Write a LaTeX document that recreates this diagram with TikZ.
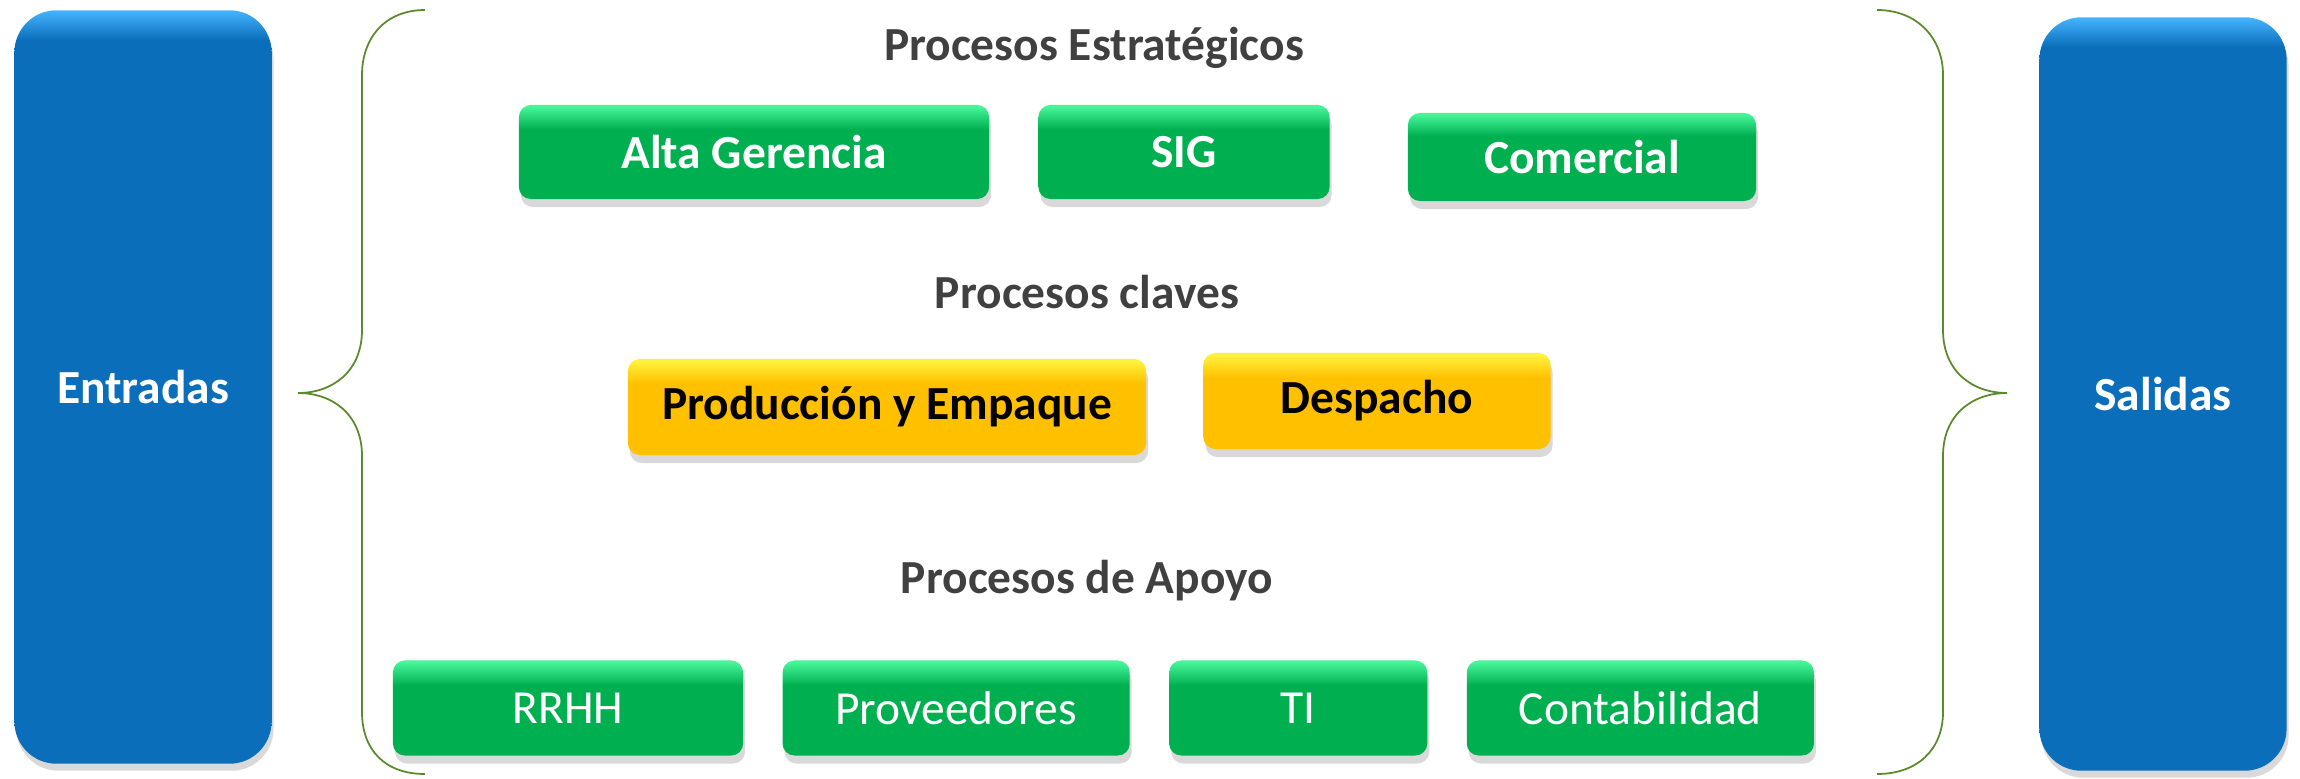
\documentclass[tikz,border=0pt]{standalone}
\usepackage{fontspec}
\setmainfont{Carlito}
\usetikzlibrary{positioning,shadows}

\definecolor{grnBase}{HTML}{00AF50}
\definecolor{grnTop}{HTML}{45F598}
\definecolor{ylwBase}{HTML}{FFC000}
\definecolor{ylwTop}{HTML}{FFF23C}
\definecolor{bluBase}{HTML}{0A6EBA}
\definecolor{bluTop}{HTML}{45B4FF}
\definecolor{braceCol}{HTML}{5B8A2D}
\definecolor{headCol}{HTML}{404040}

\pgfdeclareverticalshading{grnbtn}{100bp}{color(0bp)=(grnBase); color(25bp)=(grnBase); color(62bp)=(grnBase); color(74bp)=(grnTop); color(100bp)=(grnTop)}
\pgfdeclareverticalshading{ylwbtn}{100bp}{color(0bp)=(ylwBase); color(25bp)=(ylwBase); color(62bp)=(ylwBase); color(74bp)=(ylwTop); color(100bp)=(ylwTop)}
\pgfdeclareverticalshading{blubtn}{100bp}{color(0bp)=(bluBase); color(25bp)=(bluBase); color(73bp)=(bluBase); color(75bp)=(bluTop); color(100bp)=(bluTop)}

\newcommand{\boxfont}{\fontsize{13.5}{16}\selectfont}

\begin{document}
\begin{tikzpicture}[x=0.01cm, y=-0.01cm, node distance=3.8mm,
  btn/.style={shading=#1, rounded corners=1.2mm, minimum height=9.4mm, inner sep=0pt,
    drop shadow={shadow xshift=0.2mm, shadow yshift=-0.8mm, opacity=0.3}},
  gbox/.style={btn=grnbtn, minimum width=#1, text=white, font=\boxfont\bfseries},
  gboxlight/.style={btn=grnbtn, minimum width=#1, text=white, font=\boxfont},
  ybox/.style={btn=ylwbtn, minimum width=#1, minimum height=9.6mm, text=black, font=\boxfont\bfseries},
  side/.style={shading=blubtn, rounded corners=4.2mm, minimum height=7.53cm, minimum width=#1, inner sep=0pt,
    text=white, font=\fontsize{13.5}{16}\selectfont\bfseries,
    drop shadow={shadow xshift=0.2mm, shadow yshift=-0.7mm, opacity=0.3}},
  head/.style={text=headCol, font=\boxfont\bfseries},
  bracel/.style={draw=braceCol, line width=0.5pt}]
\useasboundingbox (0,0) rectangle (2300,779);

% entradas y salidas
\node (entradas) [side=2.57cm] at (143,387) {Entradas};
\node (salidas) [side=2.47cm] at (2163,394) {Salidas};

% llaves
\draw[bracel] (425,10) .. controls (385,10) and (362,38) .. (362,75) -- (362,330)
  .. controls (362,372) and (332,393) .. (298,393)
  .. controls (332,393) and (362,414) .. (362,456) -- (362,712)
  .. controls (362,750) and (385,774) .. (425,774);
\draw[bracel] (1877,10) .. controls (1917,10) and (1943,38) .. (1943,75) -- (1943,330)
  .. controls (1943,372) and (1973,393) .. (2007,393)
  .. controls (1973,393) and (1943,414) .. (1943,456) -- (1943,712)
  .. controls (1943,750) and (1917,774) .. (1877,774);

% estrategicos
\node (estrat) [head] at (1094,48) {Procesos Estratégicos};
\node (alta) [gbox=4.7cm] at (754,152) {Alta Gerencia};
\node (sig) [gbox=2.91cm] at (1184,152) {SIG};
\node (comercial) [gbox=3.48cm, minimum height=8.8mm] at (1582,157) {Comercial};

% claves
\node (claves) [head] at (1087,292) {Procesos claves};
\node (produccion) [ybox=5.18cm] at (887,407) {Producción y Empaque};
\node (despacho) [ybox=3.47cm] at (1377,401) {Despacho};

% apoyo
\node (apoyo) [head] at (1087,581) {Procesos de Apoyo};
\node (rrhh) [gboxlight=3.5cm, minimum height=9.5mm] at (568,708) {RRHH};
\node (proveedores) [gboxlight=3.47cm, minimum height=9.5mm, right=of rrhh] {Proveedores};
\node (ti) [gboxlight=2.58cm, minimum height=9.5mm, right=of proveedores] {TI};
\node (contabilidad) [gboxlight=3.47cm, minimum height=9.5mm, right=of ti] {Contabilidad};
\end{tikzpicture}
\end{document}
